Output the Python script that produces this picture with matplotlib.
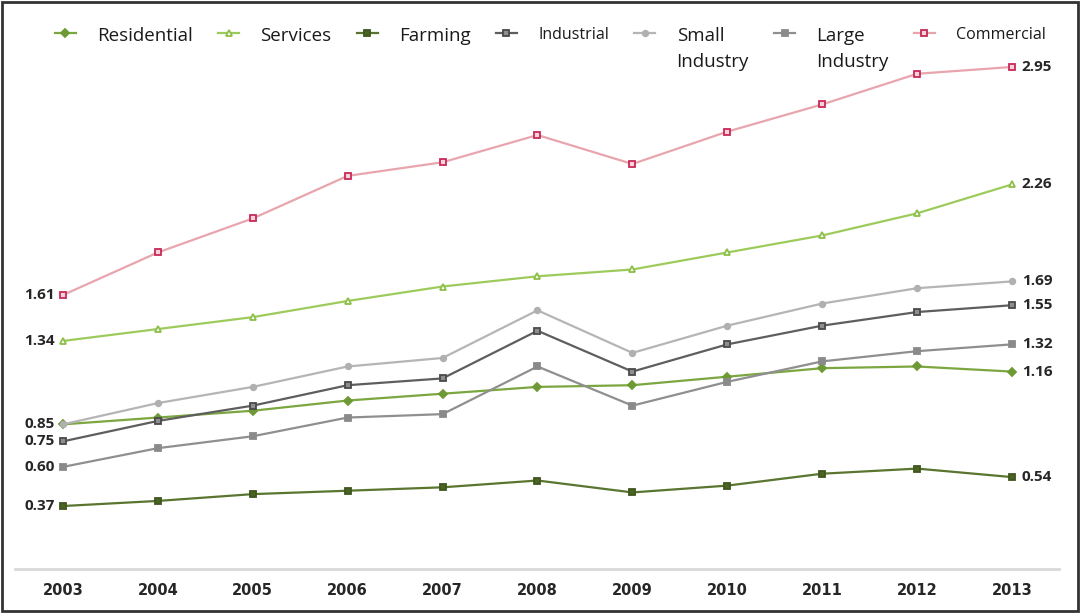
import matplotlib.pyplot as plt
from matplotlib.patches import Rectangle

years = [2003, 2004, 2005, 2006, 2007, 2008, 2009, 2010, 2011, 2012, 2013]

residential = [0.85, 0.89, 0.93, 0.99, 1.03, 1.07, 1.08, 1.13, 1.18, 1.19, 1.16]
services = [1.34, 1.41, 1.48, 1.575, 1.66, 1.72, 1.76, 1.86, 1.96, 2.09, 2.26]
farming = [0.37, 0.40, 0.44, 0.46, 0.48, 0.52, 0.45, 0.49, 0.56, 0.59, 0.54]
industrial = [0.75, 0.87, 0.96, 1.08, 1.12, 1.40, 1.16, 1.32, 1.43, 1.51, 1.55]
small_industry = [0.85, 0.975, 1.07, 1.19, 1.24, 1.52, 1.27, 1.43, 1.56, 1.65, 1.69]
large_industry = [0.60, 0.71, 0.78, 0.89, 0.91, 1.19, 0.96, 1.10, 1.22, 1.28, 1.32]
commercial = [1.61, 1.86, 2.06, 2.31, 2.39, 2.55, 2.38, 2.57, 2.73, 2.91, 2.95]

labels = ['Residential', 'Services', 'Farming', 'Industrial',
          'Small\nIndustry', 'Large\nIndustry', 'Commercial']

# which ends of each line get a value label (first year, last year)
show_first = [True, True, True, True, False, True, True]
show_last = [True, True, True, True, True, True, True]

plt.rcParams['font.family'] = ['Open Sans', 'DejaVu Sans']

fig = plt.figure(figsize=(10.8, 6.13), dpi=100)
ax = fig.add_axes([15.5 / 1080, 44 / 613, 1044 / 1080, 549 / 613])

styles = [
    dict(color='#7BA640', marker='D', ms=4, mfc='#6E9A35', mec='#6E9A35'),
    dict(color='#9DCB5B', marker='^', ms=5, mfc='white', mec='#8CBF48'),
    dict(color='#5A7530', marker='s', ms=5, mfc='#4A6424', mec='#3F561E'),
    dict(color='#5E5E5E', marker='s', ms=5, mfc='#8E8E8E', mec='#4A4A4A'),
    dict(color='#B5B5B5', marker='o', ms=4, mfc='#B0B0B0', mec='#B0B0B0'),
    dict(color='#8F8F8F', marker='s', ms=5, mfc='#8A8A8A', mec='#8A8A8A'),
    dict(color='#E8A5AD', marker='s', ms=4.5, mfc='#F6D3D9', mec='#C62A5A'),
]

series = [residential, services, farming, industrial,
          small_industry, large_industry, commercial]

for vals, lab, st, f, l in zip(series, labels, styles, show_first, show_last):
    ax.plot(years, vals, lw=1.6, label=lab, mew=1.3, zorder=3, **st)
    if f:
        ax.annotate(f'{vals[0]:.2f}', xy=(years[0], vals[0]), xytext=(-6, 0),
                    textcoords='offset points', ha='right', va='center',
                    fontsize=11, fontweight='bold', color='#262626')
    if l:
        ax.annotate(f'{vals[-1]:.2f}', xy=(years[-1], vals[-1]), xytext=(7, 0),
                    textcoords='offset points', ha='left', va='center',
                    fontsize=11, fontweight='bold', color='#262626')

ax.set_xlim(2002.5, 2013.5)
ax.set_ylim(0, 3.226)
ax.set_xticks(years)
ax.set_xticklabels([str(y) for y in years], fontweight='bold', fontsize=10.5,
                   color='#262626',
                   family=['Liberation Sans Narrow', 'DejaVu Sans'])
ax.tick_params(axis='x', length=0, pad=10)
ax.set_yticks([])
for s in ['top', 'right', 'left']:
    ax.spines[s].set_visible(False)
ax.spines['bottom'].set_color('#D9D9D9')
ax.spines['bottom'].set_linewidth(2)

leg = ax.legend(loc='upper left', bbox_to_anchor=(55 / 1080, 1 - 27 / 613),
                bbox_transform=fig.transFigure, ncol=7, frameon=False,
                fontsize=13.5, handlelength=1.1, handletextpad=1.15,
                columnspacing=1.35, borderpad=0, borderaxespad=0,
                handleheight=0.5)
for t in leg.get_texts():
    t.set_color('#1a1a1a')
    if t.get_text() in ('Industrial', 'Commercial'):
        t.set_fontsize(11.5)
    if '\n' in t.get_text():
        t.set_linespacing(1.6)

# line up the legend entries by their top edge so two-line labels hang down
hbox = leg.get_children()[0].get_children()[1]
hbox.align = 'top'
for col in hbox.get_children():
    for row in col.get_children():
        row.align = 'top'

fig.patches.append(Rectangle((0.002, 0.003), 0.996, 0.994, transform=fig.transFigure,
                             fill=False, edgecolor='#333333', lw=2))

fig.savefig('out.png', dpi=100)
